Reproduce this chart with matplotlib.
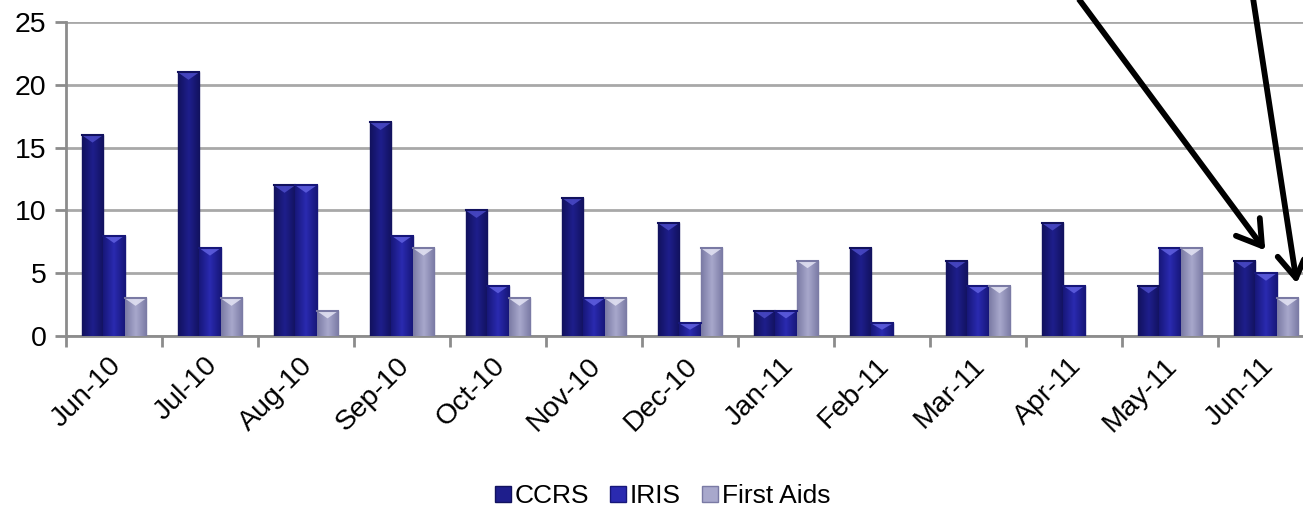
import matplotlib
matplotlib.use("Agg")
import matplotlib.pyplot as plt
import numpy as np
from matplotlib.lines import Line2D
from matplotlib.patches import Polygon
from matplotlib.colors import LinearSegmentedColormap
from matplotlib.transforms import ScaledTranslation

months = ["Jun-10", "Jul-10", "Aug-10", "Sep-10", "Oct-10", "Nov-10", "Dec-10",
          "Jan-11", "Feb-11", "Mar-11", "Apr-11", "May-11", "Jun-11"]
ccrs = [16, 21, 12, 17, 10, 11, 9, 2, 7, 6, 9, 4, 6]
iris = [8, 7, 12, 8, 4, 3, 1, 2, 1, 4, 4, 7, 5]
first_aids = [3, 3, 2, 7, 3, 3, 7, 6, 0, 4, 0, 7, 3]

series = [("CCRS", ccrs, ("#12125e", "#1e1e8c", "#12125e"), "#4b4bc8"),
          ("IRIS", iris, ("#17177a", "#2a2ab0", "#17177a"), "#6060e0"),
          ("First Aids", first_aids, ("#7a7aa4", "#a8a8cc", "#7a7aa4"), "#e4e4f4")]

plt.rcParams['font.family'] = ['Liberation Sans', 'DejaVu Sans']

W, H = 1303, 509
fig = plt.figure(figsize=(W / 100, H / 100), dpi=100)
ax = fig.add_axes([66 / W, 1 - 336 / H, 1248 / W, (336 - 22) / H])

x = np.arange(len(months))
bw = 0.224
offsets = [-bw, 0, bw]

ax.set_xlim(-0.5, 12.5)
ax.set_ylim(0, 25)
ax.set_yticks([0, 5, 10, 15, 20, 25])
ax.yaxis.grid(True, color="#a8a8a8", linewidth=2)
ax.set_axisbelow(True)

for (name, vals, cols, bevel), off in zip(series, offsets):
    bars = ax.bar(x + off, vals, width=bw, color=cols[1], edgecolor=cols[0],
                  linewidth=1, zorder=3, label=name)
    cmap = LinearSegmentedColormap.from_list(name, list(cols))
    grad = np.linspace(0, 1, 64).reshape(1, -1)
    for b in bars:
        h = b.get_height()
        if h <= 0:
            b.set_visible(False)
            continue
        x0 = b.get_x()
        x1 = x0 + b.get_width()
        ax.imshow(grad, extent=(x0, x1, 0, h), cmap=cmap, aspect='auto',
                  zorder=3.5, clip_path=b, clip_on=True)
        d = min(0.6, h / 2)
        tri = Polygon([[x0, h], [x1, h], [(x0 + x1) / 2, h - d]], closed=True,
                      facecolor=bevel, edgecolor='none', zorder=4, alpha=0.85)
        ax.add_patch(tri)
        ax.plot([x0, x1], [h, h], color=cols[0], linewidth=1.5, zorder=4.5)

ax.set_xlim(-0.5, 12.5)
ax.set_ylim(0, 25)

for s in ["top", "right"]:
    ax.spines[s].set_visible(False)
for s in ["left", "bottom"]:
    ax.spines[s].set_color("#8c8c8c")
    ax.spines[s].set_linewidth(2)

ax.set_xticks(x)
ax.set_xticklabels(months, rotation=45, ha="right", va="top",
                   rotation_mode="anchor", fontsize=20.5)
ax.tick_params(axis="x", which="major", length=0, pad=14)
shift = ScaledTranslation(-6 / 100, 3 / 100, fig.dpi_scale_trans)
for lab in ax.get_xticklabels():
    lab.set_transform(lab.get_transform() + shift)
ax.set_xticks(np.arange(-0.5, 13, 1), minor=True)
ax.tick_params(axis="x", which="minor", length=8, width=2, color="#8c8c8c")
ax.tick_params(axis="y", length=8, width=2, color="#8c8c8c", labelsize=20.5, pad=6)

ax.legend(handles=[Line2D([], [], marker='s', linestyle='none', markersize=11,
                          markerfacecolor=c[2][1], markeredgecolor=c[2][0])
                   for c in series],
          labels=[c[0] for c in series],
          loc="center", bbox_to_anchor=(662 / W, 1 - 496 / H),
          bbox_transform=fig.transFigure, ncol=3, frameon=False,
          fontsize=19, handlelength=0.7, handletextpad=0.1, columnspacing=0.75)

# arrows (annotation)
def arrow(start, tip, arm=28, ang=32):
    sx, sy = start
    tx, ty = tip
    fig.add_artist(Line2D([sx / W, tx / W], [1 - sy / H, 1 - ty / H],
                          transform=fig.transFigure, color="black", linewidth=4.2,
                          solid_capstyle="butt"))
    v = np.array([sx - tx, sy - ty], dtype=float)
    v /= np.linalg.norm(v)
    for a in (np.radians(ang), -np.radians(ang)):
        r = np.array([[np.cos(a), -np.sin(a)], [np.sin(a), np.cos(a)]])
        p = r @ v * arm
        fig.add_artist(Line2D([(tx + p[0]) / W, tx / W], [1 - (ty + p[1]) / H, 1 - ty / H],
                              transform=fig.transFigure, color="black", linewidth=4.2,
                              solid_capstyle="round"))

arrow((1078, -2), (1262, 246))
arrow((1253, -2), (1296, 278))

fig.savefig("out.png", dpi=100)
